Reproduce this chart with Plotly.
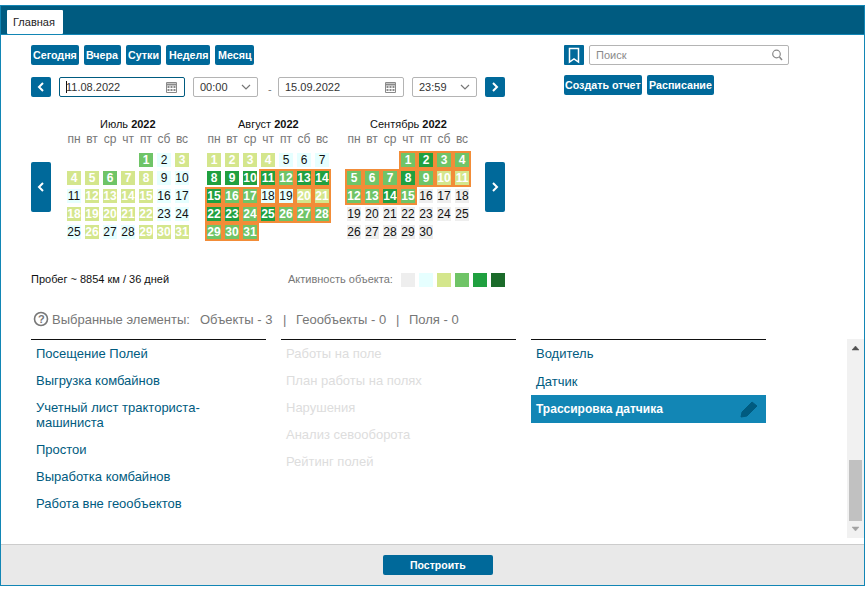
"""Экран отчёта: календарь активности объекта и списки отчётов."""

from __future__ import annotations

from datetime import date

import plotly.graph_objects as go

W, H = 867, 590
FONT = "Liberation Sans"

BLUE = "#00699a"
DARK = "#005b80"
EDGE = "#1286b5"
GREY = "#777777"
ORANGE = "#f28c38"

WEEKDAYS = ["пн", "вт", "ср", "чт", "пт", "сб", "вс"]
LEVEL_COLORS = ["#eeeeee", "#e6ffff", "#d4e68c", "#6fc467", "#20a040", "#1b6b2a"]

JULY = [3, 1, 2, 2, 2, 3, 2, 2, 1, 1, 1, 2, 2, 2, 2, 1, 1, 2, 2, 2, 2, 2, 1, 1, 1, 2, 1, 1, 2, 2, 2]
AUGUST = [2, 2, 2, 2, 1, 1, 1, 4, 4, 4, 4, 3, 4, 4, 4, 3, 3, 1, 1, 2, 2, 4, 4, 3, 4, 3, 3, 3, 3, 3, 3]
SEPTEMBER = [3, 4, 3, 3, 3, 3, 3, 4, 3, 2, 2, 3, 3, 4, 3, 0, 0, 0, 0, 0, 0, 0, 0, 0, 0, 0, 0, 0, 0, 0]

MONTHS = [
    ("Июль", 7, JULY, 65),
    ("Август", 8, AUGUST, 205),
    ("Сентябрь", 9, SEPTEMBER, 345),
]
RANGE_START = date(2022, 8, 11)
RANGE_END = date(2022, 9, 15)

PERIOD_BUTTONS = [("Сегодня", 31, 79), ("Вчера", 84, 121), ("Сутки", 126, 161), ("Неделя", 166, 210), ("Месяц", 215, 254)]
REPORT_BUTTONS = [("Создать отчет", 564, 642), ("Расписание", 647, 714)]

LIST_LEFT = [("Посещение Полей", 353), ("Выгрузка комбайнов", 380), ("Учетный лист тракториста-", 407),
             ("машиниста", 422), ("Простои", 449), ("Выработка комбайнов", 476), ("Работа вне геообъектов", 503)]
LIST_MIDDLE = [("Работы на поле", 353), ("План работы на полях", 380), ("Нарушения", 407),
               ("Анализ севооборота", 434), ("Рейтинг полей", 461)]
LIST_RIGHT = [("Водитель", 353), ("Датчик", 381)]

# подпись дня чуть ниже центра клетки, в долях строки
DAY_TEXT_SHIFT = 0.05

shapes = []
annotations = []


def rect(x0, y0, x1, y1, fill, line=None, radius=0):
    if radius:
        r = radius
        path = (f"M{x0+r},{y0} L{x1-r},{y0} Q{x1},{y0} {x1},{y0+r} L{x1},{y1-r} Q{x1},{y1} {x1-r},{y1} "
                f"L{x0+r},{y1} Q{x0},{y1} {x0},{y1-r} L{x0},{y0+r} Q{x0},{y0} {x0+r},{y0} Z")
        shape = dict(type="path", path=path)
    else:
        shape = dict(type="rect", x0=x0, y0=y0, x1=x1, y1=y1)
    shape.update(xref="x", yref="y", layer="below", fillcolor=fill,
                 line=dict(color=line or fill, width=1 if line else 0))
    shapes.append(shape)


def stroke(path, color, width=1.0, fill="rgba(0,0,0,0)"):
    shapes.append(dict(type="path", path=path, xref="x", yref="y", layer="below", fillcolor=fill,
                       line=dict(color=color, width=width)))


def ring(cx, cy, r, color, width):
    shapes.append(dict(type="circle", x0=cx - r, y0=cy - r, x1=cx + r, y1=cy + r, xref="x", yref="y",
                       layer="below", fillcolor="rgba(0,0,0,0)", line=dict(color=color, width=width)))


def label(text, x, y, color="#333333", size=11, anchor="left", bold=False):
    annotations.append(dict(
        text=f"<b>{text}</b>" if bold else text, x=x, y=y, xref="x", yref="y", showarrow=False,
        xanchor=anchor, yanchor="middle", borderpad=0, borderwidth=0,
        font=dict(family=FONT, size=size, color=color),
    ))


def input_box(x0, x1, text, line="#b4b4b4"):
    rect(x0 + 0.5, 77.5, x1 - 0.5, 96.5, "#ffffff", line, radius=1.5)
    label(text, x0 + 7, 87)


def calendar_icon(x):
    stroke(f"M{x},82.5 H{x+10} V92.5 H{x} Z", "#8a8a8a", 1)
    stroke(f"M{x},84.5 H{x+10}", "#8a8a8a", 2)
    for dx in (2, 5, 8):
        for dy in (87, 90):
            rect(x + dx - 1, dy - 1, x + dx + 1, dy + 1, "#8a8a8a")


def chevron_down(x):
    stroke(f"M{x-4},85 L{x},89 L{x+4},85", "#777777", 1.2)


def nav_button(x0, y0, y1, direction):
    rect(x0, y0, x0 + 20, y1, BLUE, radius=2)
    cx, cy = x0 + 10, (y0 + y1) / 2
    stroke(f"M{cx+2*direction*-1},{cy-4} L{cx+2*direction},{cy} L{cx+2*direction*-1},{cy+4}", "#ffffff", 2)


# каркас страницы
rect(0, 5, 865, 586, "#ffffff")
rect(0, 5, 865, 35, DARK)
rect(0, 5, 865, 6, EDGE)
rect(0, 34, 865, 35, EDGE)
rect(1, 545, 864, 585, "#e9e9e9")
rect(1, 544, 864, 545, "#cccccc")
rect(0, 5, 1, 586, EDGE)
rect(864, 5, 865, 586, EDGE)
rect(0, 585, 865, 586, EDGE)

rect(7, 10, 63, 34, "#ffffff", radius=1)
label("Главная", 13, 22, color="#222222")

for text, x0, x1 in PERIOD_BUTTONS:
    rect(x0, 45, x1, 65, BLUE, radius=2)
    label(text, (x0 + x1) / 2, 55, color="#ffffff", size=10.7, anchor="center", bold=True)

nav_button(31, 77, 97, -1)
input_box(59, 185, "11.08.2022", line=DARK)
stroke("M66.5,81 V93", "#111111", 1)
calendar_icon(166.5)
input_box(193, 258, "00:00")
chevron_down(246)
label("-", 268, 89, color=GREY)
input_box(278, 404, "15.09.2022")
calendar_icon(385.5)
input_box(412, 477, "23:59")
chevron_down(465)
nav_button(485, 77, 97, 1)

rect(564, 45, 584, 65, BLUE, radius=1)
stroke("M569.5,48.5 H578.5 V62 L574,59 L569.5,62 Z", "#ffffff", 1.5)
rect(589.5, 45.5, 788.5, 64.5, "#ffffff", "#b4b4b4", radius=1.5)
label("Поиск", 596, 55, color="#8a8a8a")
ring(776.5, 54, 3.8, "#8a8a8a", 1.2)
stroke("M779.5,57 L782,60", "#8a8a8a", 1.5)

for text, x0, x1 in REPORT_BUTTONS:
    rect(x0, 75, x1, 95, BLUE, radius=2)
    label(text, (x0 + x1) / 2, 85, color="#ffffff", size=10.7, anchor="center", bold=True)

nav_button(31, 162, 212, -1)
nav_button(485, 162, 212, 1)

label("Пробег ~ 8854 км / 36 дней", 31, 279, color="#111111")
label("Активность объекта:", 288, 279, color=GREY)

ring(41, 319, 6.5, GREY, 1.6)
label("?", 41, 319, color=GREY, anchor="center", bold=True)
label("Выбранные элементы:", 52, 319, color=GREY, size=13)
label("Объекты - 3", 200, 319, color=GREY, size=13)
label("|", 283, 319, color=GREY, size=13)
label("Геообъекты - 0", 296, 319, color=GREY, size=13)
label("|", 396, 319, color=GREY, size=13)
label("Поля - 0", 409, 319, color=GREY, size=13)

for x0 in (31, 281, 531):
    rect(x0, 339, x0 + 235, 340, "#111111")

for text, y in LIST_LEFT:
    label(text, 36, y, color=DARK, size=13)
for text, y in LIST_MIDDLE:
    label(text, 286, y, color="#dddddd", size=13)
for text, y in LIST_RIGHT:
    label(text, 536, y, color=DARK, size=13)

rect(531, 395, 766, 423, EDGE)
label("Трассировка датчика", 536, 409, color="#ffffff", size=12, bold=True)
stroke("M741,417 L742,412 L752,402 L757,406 L747,416 Z", DARK, 1, fill=DARK)

# полоса прокрутки
rect(847, 339, 864, 538, "#f1f1f1")
rect(849, 460, 862, 521, "#c1c1c1")
stroke("M852,350 L855.5,346 L859,350 Z", "#505050", 0.5, fill="#505050")
stroke("M852,527 L855.5,531 L859,527 Z", "#a3a3a3", 0.5, fill="#a3a3a3")

rect(383, 555, 493, 575, BLUE, radius=2)
label("Построить", 438, 565, color="#ffffff", size=10.5, anchor="center", bold=True)

fig = go.Figure()

# пиксельная ось страницы, на ней же шкала активности
fig.add_trace(go.Scatter(
    x=[408 + 18 * i for i in range(len(LEVEL_COLORS))], y=[280] * len(LEVEL_COLORS), mode="markers",
    marker=dict(symbol="square", size=14, color=LEVEL_COLORS, line=dict(width=0)),
    hoverinfo="skip", showlegend=False,
))

layout_axes = {
    "xaxis": dict(range=[0, W], domain=[0, 1], visible=False, fixedrange=True),
    "yaxis": dict(range=[H, 0], domain=[0, 1], visible=False, fixedrange=True),
}

for i, (name, month, levels, left) in enumerate(MONTHS):
    suffix = str(i + 2)
    days = [date(2022, month, d + 1) for d in range(len(levels))]
    first_weekday = days[0].weekday()
    cols = [d.weekday() for d in days]
    rows = [(d.day - 1 + first_weekday) // 7 for d in days]
    picked = [k for k, d in enumerate(days) if RANGE_START <= d <= RANGE_END]

    layout_axes["xaxis" + suffix] = dict(
        range=[-0.5, 6.5], domain=[left / W, (left + 126) / W], anchor="y" + suffix, side="top",
        tickmode="array", tickvals=list(range(7)), ticktext=WEEKDAYS, showgrid=False, zeroline=False,
        showline=False, ticks="outside", ticklen=2, tickcolor="rgba(0,0,0,0)", fixedrange=True,
        tickfont=dict(family=FONT, size=12, color=GREY),
    )
    layout_axes["yaxis" + suffix] = dict(
        range=[4.5, -0.5], domain=[1 - 241 / H, 1 - 151 / H], anchor="x" + suffix, visible=False, fixedrange=True,
    )
    if picked:
        fig.add_trace(go.Scatter(
            x=[cols[k] for k in picked], y=[rows[k] for k in picked], mode="markers",
            xaxis="x" + suffix, yaxis="y" + suffix, cliponaxis=False,
            marker=dict(symbol="square", size=18, color=ORANGE, line=dict(width=0)),
            hoverinfo="skip", showlegend=False,
        ))
    fig.add_trace(go.Scatter(
        x=cols, y=rows, mode="markers", xaxis="x" + suffix, yaxis="y" + suffix, cliponaxis=False,
        marker=dict(symbol="square", size=14, color=[LEVEL_COLORS[lv] for lv in levels], line=dict(width=0)),
        hoverinfo="skip", showlegend=False,
    ))
    fig.add_trace(go.Scatter(
        x=cols, y=[r + DAY_TEXT_SHIFT for r in rows], mode="text", xaxis="x" + suffix, yaxis="y" + suffix,
        cliponaxis=False, text=[str(d.day) for d in days], textposition="middle center",
        textfont=dict(
            family=FONT, size=12,
            color=["#ffffff" if lv >= 2 else "#111111" for lv in levels],
            weight=[700 if lv >= 2 else 400 for lv in levels],
        ),
        hoverinfo="skip", showlegend=False,
    ))
    label(f"{name} <b>2022</b>", left + 63, 124, color="#111111", anchor="center")

fig.update_layout(
    width=W, height=H, margin=dict(l=0, r=0, t=0, b=0), autosize=False,
    paper_bgcolor="#ffffff", plot_bgcolor="rgba(0,0,0,0)", showlegend=False,
    shapes=shapes, annotations=annotations, **layout_axes,
)

fig.write_html(
    "out.html",
    config={"displayModeBar": False, "responsive": False},
    post_script="document.body.style.margin='0';document.body.style.overflow='hidden';",
)
